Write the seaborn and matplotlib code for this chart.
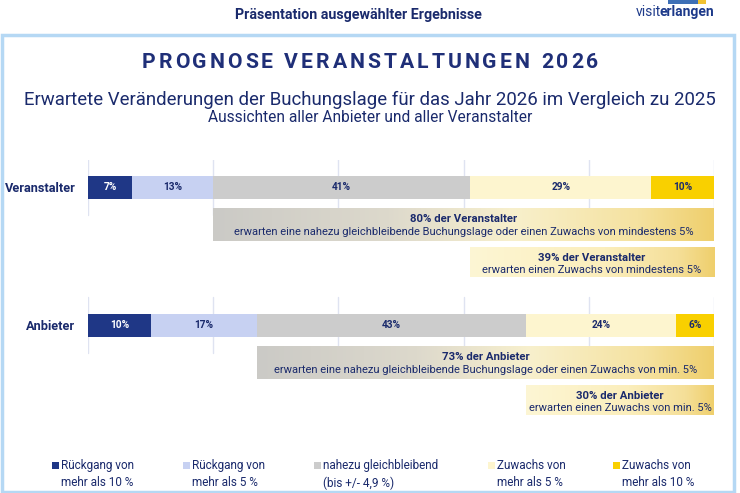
import matplotlib
matplotlib.use("Agg")
import matplotlib.pyplot as plt
import seaborn as sns
import numpy as np
import pandas as pd
from matplotlib.colors import LinearSegmentedColormap
from matplotlib.patches import Rectangle

# ---------------- data ----------------
groups = ["Veranstalter", "Anbieter"]
categories = ["Rückgang von\nmehr als 10 %", "Rückgang von\nmehr als 5 %",
              "nahezu gleichbleibend\n(bis +/- 4,9 %)", "Zuwachs von\nmehr als 5 %",
              "Zuwachs von\nmehr als 10 %"]
veranstalter = [7, 13, 41, 29, 10]
anbieter = [10, 17, 43, 24, 6]
colors = ["#1f3786", "#c7d1f2", "#cccccc", "#fdf5cf", "#f9d000"]
label_colors = ["white", "#1a2a6c", "#1a2a6c", "#1a2a6c", "#1a2a6c"]

box_big_pct = [80, 73]
box_small_pct = [39, 30]
box_big_text = ["erwarten eine nahezu gleichbleibende Buchungslage oder einen Zuwachs von mindestens 5%",
                "erwarten eine nahezu gleichbleibende Buchungslage oder einen Zuwachs von min. 5%"]
box_small_text = ["erwarten einen Zuwachs von mindestens 5%",
                  "erwarten einen Zuwachs von min. 5%"]

title = "PROGNOSE VERANSTALTUNGEN 2026"
subtitle1 = "Erwartete Veränderungen der Buchungslage für das Jahr 2026 im Vergleich zu 2025"
subtitle2 = "Aussichten aller Anbieter und aller Veranstalter"
header = "Präsentation ausgewählter Ergebnisse"

NAVY = "#1a2a6c"
FONT = ["Roboto", "DejaVu Sans"]

sns.set_theme(style="white")
plt.rcParams["font.family"] = FONT

W, H = 740, 493
fig = plt.figure(figsize=(W / 100, H / 100), dpi=100)

def fx(px):
    return px / W

def fy(py):
    return 1 - py / H

# frame
fig.patches.append(Rectangle((fx(1.5), fy(492)), fx(734) - fx(1.5), fy(35) - fy(492),
                             transform=fig.transFigure, fill=False,
                             edgecolor="#b5d8f4", lw=2.5, zorder=0))

# header
fig.text(fx(358), fy(15), header, ha="center", va="center", fontsize=10.3,
         fontweight="bold", color=NAVY)
# logo
fig.patches.append(Rectangle((fx(668), fy(4)), fx(30), fy(0) - fy(4), transform=fig.transFigure,
                             color="#3d6fb6", lw=0))
fig.patches.append(Rectangle((fx(698), fy(4)), fx(8), fy(0) - fy(4), transform=fig.transFigure,
                             color="#f2c230", lw=0))
t1 = fig.text(fx(636), fy(12), "visit", ha="left", va="center", fontsize=10, color="#1d3a8a")
fig.canvas.draw()
r = fig.canvas.get_renderer()
bb = t1.get_window_extent(r)
fig.text((bb.x1 - 2) / W, fy(12), "erlangen", ha="left", va="center", fontsize=10,
         fontweight="bold", color="#1d3a8a")

# title with letter spacing
def spaced_text(s, xc, yc, spacing_px, **kw):
    widths = []
    for ch in s:
        t = fig.text(0, 0, ch if ch != " " else "\u00a0", **kw)
        widths.append(t.get_window_extent(r).width if ch != " " else None)
        t.remove()
    sp = fig.text(0, 0, "A A", **kw)
    wAA = sp.get_window_extent(r).width
    sp.remove()
    a = fig.text(0, 0, "AA", **kw)
    wspace = wAA - a.get_window_extent(r).width
    a.remove()
    widths = [w if w is not None else wspace for w in widths]
    total = sum(widths) + spacing_px * (len(s) - 1)
    x = xc - total / 2
    for ch, w in zip(s, widths):
        if ch != " ":
            fig.text(x / W, fy(yc), ch, ha="left", va="center", **kw)
        x += w + spacing_px

spaced_text(title, 370, 63, 3.0, fontsize=15.2, fontweight="bold", color="#1f2f78")
fig.text(fx(370), fy(100), subtitle1, ha="center", va="center", fontsize=13.4, color=NAVY)
fig.text(fx(370), fy(117), subtitle2, ha="center", va="center", fontsize=11.2, color=NAVY)

# ---------------- main axes ----------------
ax = fig.add_axes([fx(88), fy(420), fx(714) - fx(88), fy(160) - fy(420)])

df = pd.DataFrame({"group": groups})
cum = np.cumsum(np.array([veranstalter, anbieter]), axis=1)
barw = 0.167
for i in range(len(categories) - 1, -1, -1):
    df["value"] = cum[:, i]
    sns.barplot(data=df, x="value", y="group", orient="h", color=colors[i],
                width=barw, saturation=1, ax=ax, zorder=2, linewidth=0)

vals_all = [veranstalter, anbieter]
for gi, vals in enumerate(vals_all):
    start = 0
    for ci, v in enumerate(vals):
        ax.text(start + v / 2, gi, f"{v}%", ha="center", va="center", fontsize=7.3,
                fontweight="bold", color=label_colors[ci], zorder=5)
        start += v
    # gridlines
    for gx in range(0, 101, 20):
        ax.plot([gx, gx], [gi - 0.2, gi + 0.2], color="#dfe3f1", lw=1, zorder=0)

cmap_big = LinearSegmentedColormap.from_list("big", [(0, "#cbcac6"), (0.35, "#ddd9cc"),
                                                     (0.6, "#f8f0cc"), (0.85, "#f5e2a0"),
                                                     (1, "#efcf6c")])
cmap_small = LinearSegmentedColormap.from_list("small", [(0, "#fdf6d4"), (0.55, "#fbeebc"),
                                                         (0.85, "#f5df98"), (1, "#efcf6c")])
grad = np.linspace(0, 1, 256).reshape(1, -1)
for gi, vals in enumerate(vals_all):
    big_start = 100 - box_big_pct[gi]
    small_start = 100 - box_small_pct[gi]
    y0, y1 = gi + 0.155, gi + 0.39
    ax.imshow(grad, cmap=cmap_big, aspect="auto", extent=[big_start, 100, y1, y0], zorder=1)
    xc = (big_start + 100) / 2
    ax.text(xc, gi + 0.235, f"{box_big_pct[gi]}% der {groups[gi]}", ha="center", va="center",
            fontsize=8.2, fontweight="bold", color=NAVY, zorder=5)
    ax.text(xc, gi + 0.325, box_big_text[gi], ha="center", va="center",
            fontsize=8, color=NAVY, zorder=5)
    y0, y1 = gi + 0.44, gi + 0.655
    ax.imshow(grad, cmap=cmap_small, aspect="auto", extent=[small_start, 100, y1, y0], zorder=1)
    xc = (small_start + 100) / 2
    ax.text(xc, gi + 0.515, f"{box_small_pct[gi]}% der {groups[gi]}", ha="center", va="center",
            fontsize=8.2, fontweight="bold", color=NAVY, zorder=5)
    ax.text(xc, gi + 0.6, box_small_text[gi], ha="center", va="center",
            fontsize=8, color=NAVY, zorder=5)

ax.set_xlim(0, 100)
ax.set_ylim(1.688, -0.196)
ax.set_xlabel("")
ax.set_ylabel("")
ax.set_xticks([])
ax.set_yticks([0, 1])
ax.set_yticklabels(groups, fontsize=9.2, fontweight="bold", color=NAVY)
ax.tick_params(axis="y", length=0, pad=9)
for s in ax.spines.values():
    s.set_visible(False)
ax.set_facecolor("none")

# ---------------- legend ----------------
leg_sq_x = [52, 183, 314, 488, 613]
for ci, cat in enumerate(categories):
    fig.patches.append(Rectangle((fx(leg_sq_x[ci]), fy(469)), fx(7), fy(462) - fy(469),
                                 transform=fig.transFigure, color=colors[ci], lw=0))
    fig.text(fx(leg_sq_x[ci] + 9), fy(459), cat, ha="left", va="top", fontsize=8.5,
             color=NAVY, linespacing=1.45)

fig.savefig("out.png", dpi=100)
